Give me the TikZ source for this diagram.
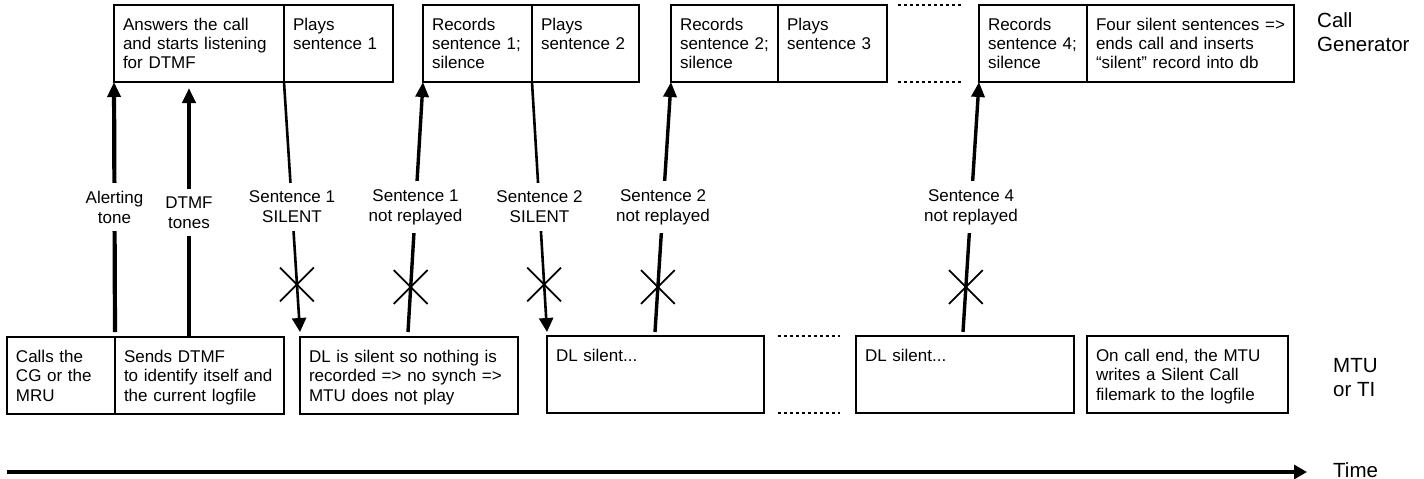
\documentclass[tikz,border=0pt]{standalone}
\usepackage{fontspec}
\setmainfont{Liberation Sans}
\usepackage{tikz}
\usetikzlibrary{positioning, arrows.meta, shapes.misc}
\tikzset{
    stepbox/.style={rectangle, draw=black, line width=1.3pt, inner xsep=9pt, inner ysep=0pt, outer sep=0pt, text height=25pt, text depth=52pt, align=left, text width=#1, font=\fontsize{17}{19.5}\selectfont},
    note/.style={fill=white, align=center, inner sep=8pt, font=\fontsize{17}{20}\selectfont},
    side/.style={align=left, inner sep=0pt, font=\fontsize{20.5}{24.5}\selectfont},
    blocked/.style={cross out, draw=black, line width=1.8pt, minimum size=32pt, inner sep=0pt},
    sig/.style={line width=4.2pt, -{Triangle[length=15pt,width=13pt]}},
    replay/.style={line width=3.4pt, -{Triangle[length=15pt,width=13pt]}},
    silent/.style={line width=2.6pt, -{Triangle[length=14pt,width=14pt]}},
    gap/.style={line width=2.8pt, dash pattern=on 3pt off 3pt},
    timeline/.style={line width=4.5pt, -{Triangle[length=13pt,width=14pt]}}
}
\begin{document}
\begin{tikzpicture}[x=1pt, y=-1pt]
    \useasboundingbox (0,0) rectangle (1424,479);
    \node (ans) [stepbox=152pt, anchor=north west] at (114,5) {Answers the call\\and starts listening\\for DTMF};
    \node (play1) [stepbox=91pt, right=0pt of ans] {Plays\\sentence~1};
    \node (rec1) [stepbox=91pt, anchor=north west] at (423,5) {Records\\sentence~1;\\silence};
    \node (play2) [stepbox=89pt, right=0pt of rec1] {Plays\\sentence~2};
    \node (rec2) [stepbox=89pt, anchor=north west] at (671,5) {Records\\sentence~2;\\silence};
    \node (play3) [stepbox=91pt, right=0pt of rec2] {Plays\\sentence~3};
    \node (rec4) [stepbox=90pt, anchor=north west] at (979,5) {Records\\sentence~4;\\silence};
    \node (cgend) [stepbox=189pt, right=0pt of rec4] {Four silent sentences =>\\ends call and inserts\\“silent” record into db};
    \node (cg) [side, anchor=north west] at (1317,12) {Call\\Generator};

    \node (calls) [stepbox=90pt, anchor=north west] at (7,337) {Calls the\\CG or the\\MRU};
    \node (sends) [stepbox=151pt, right=0pt of calls] {Sends DTMF\\to identify itself and\\the current logfile};
    \node (dl1) [stepbox=200pt, anchor=north west] at (300,337) {DL is silent so nothing is\\recorded => no synch =>\\MTU does not play};
    \node (dl2) [stepbox=199pt, anchor=north west] at (547,336) {DL silent...};
    \node (dl3) [stepbox=200pt, anchor=north west] at (856,336) {DL silent...};
    \node (mtuend) [stepbox=183pt, anchor=north west] at (1087,336) {On call end, the MTU\\writes a Silent Call\\filemark to the logfile};
    \node (mtu) [side, anchor=north west] at (1333,358) {MTU\\or TI};

    \draw [gap] ([xshift=11pt]play3.north east) -- ([xshift=-17pt]rec4.north west);
    \draw [gap] ([xshift=11pt]play3.south east) -- ([xshift=-17pt]rec4.south west);
    \draw [gap] ([xshift=14pt]dl2.north east) -- ([xshift=-16pt]dl3.north west);
    \draw [gap] ([xshift=14pt]dl2.south east) -- ([xshift=-16pt]dl3.south west);

    \draw [sig] ([yshift=5pt]calls.north east) -- (ans.south west) node [note, midway] {Alerting\\tone};
    \draw [sig] ([xshift=74pt]sends.north west) -- ([xshift=75pt,yshift=-6pt]ans.south west) node [note, midway] {DTMF\\tones};
    \draw [silent] (ans.south east) -- ([yshift=5pt]dl1.north west) node [note, midway] {Sentence 1\\SILENT} node [blocked, pos=0.81] {};
    \draw [replay] ([xshift=108pt,yshift=5pt]dl1.north west) -- (rec1.south west) node [note, midway] {Sentence 1\\not replayed} node [blocked, pos=0.18] {};
    \draw [silent] (rec1.south east) -- ([yshift=4pt]dl2.north west) node [note, midway] {Sentence 2\\SILENT} node [blocked, pos=0.81] {};
    \draw [replay] ([xshift=108pt,yshift=4pt]dl2.north west) -- (rec2.south west) node [note, midway] {Sentence 2\\not replayed} node [blocked, pos=0.18] {};
    \draw [replay] ([xshift=107pt,yshift=4pt]dl3.north west) -- (rec4.south west) node [note, midway] {Sentence 4\\not replayed} node [blocked, pos=0.18] {};

    \coordinate (t0) at (7,472);
    \coordinate (t1) at (1307,472);
    \node (time) [side, anchor=west] at (1333,470) {Time};
    \draw [timeline] (t0) -- (t1);
\end{tikzpicture}
\end{document}
